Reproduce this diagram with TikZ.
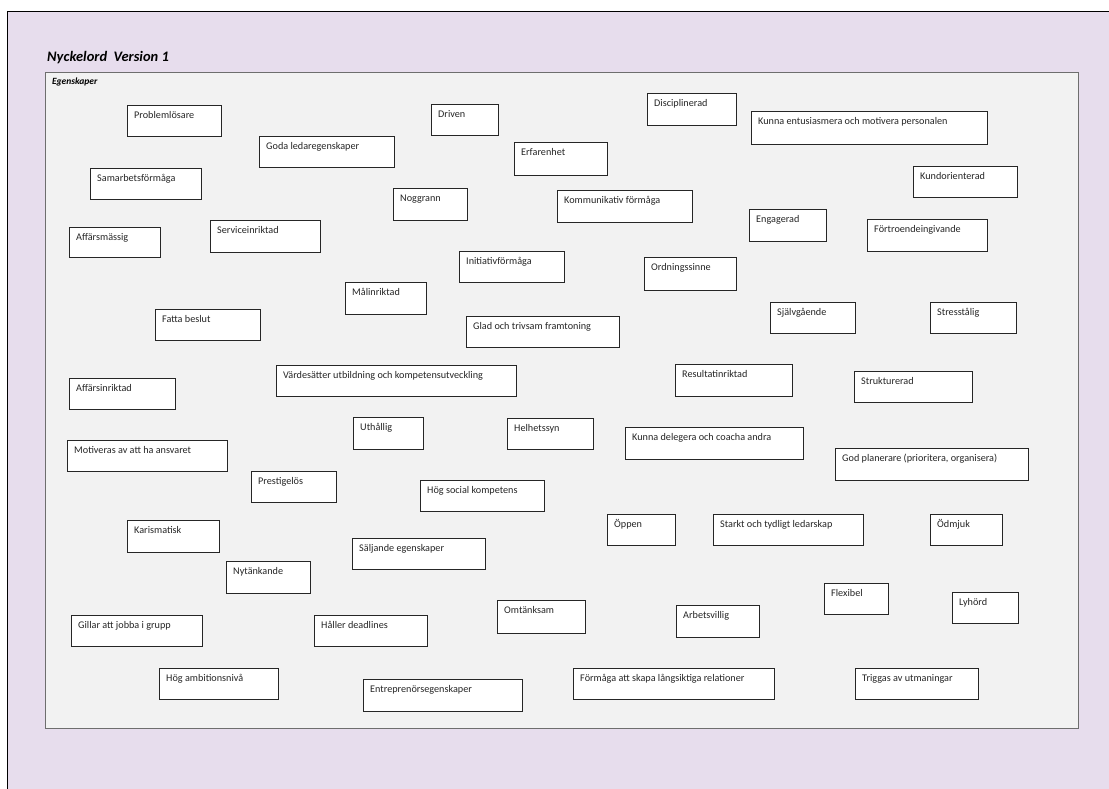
\documentclass[tikz,border=0pt]{standalone}
\usepackage{fontspec}
\setmainfont{Carlito}
\usetikzlibrary{shadows}
\definecolor{lavender}{RGB}{231,221,237}
\definecolor{panelgray}{RGB}{242,242,242}
\definecolor{panelline}{RGB}{110,110,110}
\tikzset{
  kwbox/.style={draw=black!85, line width=1.2pt, fill=white, anchor=north west, inner sep=0pt,
    drop shadow={shadow xshift=0.7pt, shadow yshift=-0.7pt, fill=black!45, opacity=0.7}},
  kwtext/.style={anchor=base west, inner sep=0pt, font=\fontsize{10.2}{12}\selectfont, text=black!85},
}
\newcommand\kw[6]{%
  \pgfmathsetmacro\kwW{#4-#2}%
  \pgfmathsetmacro\kwH{#5-#3}%
  \node[kwbox, minimum width=\kwW pt, minimum height=\kwH pt] (#1) at (#2,#3) {};
  \node[kwtext] (#1t) at ([xshift=7pt,yshift=-13pt]#1.north west) {#6};
}
\begin{document}
\begin{tikzpicture}[x=1pt,y=-1pt]
\useasboundingbox (0,0) rectangle (1109,788);
% outer frame
\path[fill=lavender, draw=black, line width=0.9pt] (7,11) rectangle (1130,810);
% title
\node[anchor=base west, inner sep=0pt, font=\fontsize{14.5}{16}\selectfont\bfseries\itshape] (title) at (47,61) {Nyckelord\ \ Version 1};
% panel
\node[draw=panelline, fill=panelgray, line width=1.2pt, anchor=north west, inner sep=0pt,
  minimum width=1033pt, minimum height=656pt] (panel) at (45,72) {};
\node[anchor=base west, inner sep=0pt, font=\fontsize{9.5}{11}\selectfont\bfseries\itshape] (egen) at (52,84) {Egenskaper};
% keyword boxes
\kw{prob}{127}{105}{221}{136}{Problemlösare}
\kw{goda}{259}{136}{394}{167}{Goda ledaregenskaper}
\kw{samarb}{90}{168}{201}{199}{Samarbetsförmåga}
\kw{affm}{69}{227}{160}{257}{Affärsmässig}
\kw{serv}{210}{220}{320}{252}{Serviceinriktad}
\kw{driven}{431}{104}{498}{135}{Driven}
\kw{disc}{647}{93}{736}{125}{Disciplinerad}
\kw{erf}{514}{142}{607}{175}{Erfarenhet}
\kw{nogg}{393}{188}{467}{220}{Noggrann}
\kw{komm}{557}{190}{692}{222}{Kommunikativ förmåga}
\kw{init}{459}{251}{564}{282}{Initiativförmåga}
\kw{ordn}{644}{257}{736}{290}{Ordningssinne}
\kw{entus}{751}{111}{987}{144}{Kunna entusiasmera och motivera personalen}
\kw{kund}{913}{166}{1017}{197}{Kundorienterad}
\kw{eng}{749}{209}{826}{241}{Engagerad}
\kw{fortr}{867}{219}{987}{251}{Förtroendeingivande}
\kw{sjalv}{770}{302}{855}{333}{Självgående}
\kw{stress}{930}{302}{1016}{333}{Stresstålig}
\kw{mal}{345}{282}{426}{314}{Målinriktad}
\kw{fatta}{155}{309}{260}{340}{Fatta beslut}
\kw{varde}{276}{365}{516}{396}{Värdesätter utbildning och kompetensutveckling}
\kw{affi}{69}{378}{175}{409}{Affärsinriktad}
\kw{uth}{353}{417}{423}{449}{Uthållig}
\kw{motiv}{67}{440}{227}{471}{Motiveras av att ha ansvaret}
\kw{prest}{251}{471}{336}{502}{Prestigelös}
\kw{glad}{466}{316}{619}{347}{Glad och trivsam framtoning}
\kw{result}{675}{364}{792}{396}{Resultatinriktad}
\kw{helh}{507}{418}{593}{449}{Helhetssyn}
\kw{deleg}{625}{427}{803}{459}{Kunna delegera och coacha andra}
\kw{hogsoc}{420}{480}{544}{511}{Hög social kompetens}
\kw{oppen}{607}{514}{675}{545}{Öppen}
\kw{starkt}{713}{514}{863}{545}{Starkt och tydligt ledarskap}
\kw{strukt}{854}{371}{972}{402}{Strukturerad}
\kw{godplan}{835}{448}{1028}{480}{God planerare (prioritera, organisera)}
\kw{odmjuk}{930}{514}{1002}{545}{Ödmjuk}
\kw{karism}{127}{520}{219}{552}{Karismatisk}
\kw{saljande}{352}{538}{485}{569}{Säljande egenskaper}
\kw{nytank}{226}{561}{310}{593}{Nytänkande}
\kw{gillar}{71}{615}{202}{646}{Gillar att jobba i grupp}
\kw{haller}{314}{615}{427}{646}{Håller deadlines}
\kw{hogamb}{159}{668}{278}{699}{Hög ambitionsnivå}
\kw{entre}{363}{679}{522}{711}{Entreprenörsegenskaper}
\kw{omt}{497}{600}{585}{633}{Omtänksam}
\kw{arbets}{676}{605}{759}{637}{Arbetsvillig}
\kw{formaga}{573}{668}{774}{699}{Förmåga att skapa långsiktiga relationer}
\kw{flex}{824}{583}{888}{614}{Flexibel}
\kw{lyh}{952}{592}{1018}{623}{Lyhörd}
\kw{trigg}{855}{668}{978}{699}{Triggas av utmaningar}
\end{tikzpicture}
\end{document}
